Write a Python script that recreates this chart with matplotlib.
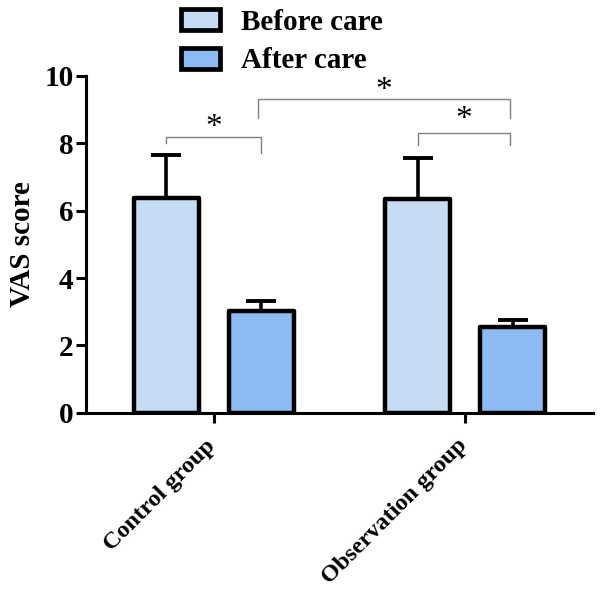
import numpy as np
import matplotlib
matplotlib.use("Agg")
import matplotlib.pyplot as plt
from matplotlib.transforms import ScaledTranslation
from matplotlib.patches import FancyBboxPatch
from matplotlib.legend_handler import HandlerPatch

plt.rcParams['font.family'] = ['Liberation Serif', 'DejaVu Serif']
plt.rcParams['font.weight'] = 'bold'

groups = ["Control group", "Observation group"]
series = ["Before care", "After care"]
before_mean = [6.38, 6.33]
before_sd = [1.26, 1.22]
after_mean = [3.02, 2.54]
after_sd = [0.30, 0.22]
colors = ["#c6dbf4", "#8cbaf2"]

fig = plt.figure(figsize=(6, 5.91), dpi=100)
ax = fig.add_axes([0.1433, 0.3012, 0.845, 0.571])

x = np.arange(len(groups))
w = 0.258
off = 0.189

for i, (m, sd) in enumerate([(before_mean, before_sd), (after_mean, after_sd)]):
    pos = x + (-off if i == 0 else off)
    ax.errorbar(pos, m, yerr=[np.zeros(len(m)), sd], fmt='none', ecolor='black',
                elinewidth=2.6, capsize=11, capthick=2.8, zorder=2)
    bars = ax.bar(pos, m, width=w, color=colors[i], edgecolor='black', linewidth=3.2,
                  label=series[i], zorder=3)
    for b in bars:
        b.set_joinstyle('round')

# significance brackets (gray), legs hang from bar centres
def bracket(x1, x2, ytop, y1, y2, ystar):
    ax.plot([x1, x1, x2, x2], [y1, ytop, ytop, y2], color='#808080', lw=1.0,
            clip_on=False, zorder=4)
    ax.text((x1 + x2) / 2, ystar, "*", ha='center', va='center', fontsize=24,
            fontweight='normal')

bracket(x[0] - off, x[0] + off, 8.18, 8.0, 7.7, 8.45)
bracket(x[0] + off - 0.012, x[1] + off - 0.012, 9.3, 8.74, 8.74, 9.55)
bracket(x[1] - off, x[1] + off - 0.012, 8.3, 7.94, 7.94, 8.68)

ax.set_xlim(-0.508, 1.509)
ax.set_ylim(0, 10)
ax.set_yticks([0, 2, 4, 6, 8, 10])
ax.set_xticks(x)
ax.set_xticklabels([])
shift = ScaledTranslation(-6.5 / 72, -16 / 72, fig.dpi_scale_trans)
for xi, g in zip(x, groups):
    ax.text(xi, 0, g, transform=ax.get_xaxis_transform() + shift, rotation=45,
            ha='right', va='top', rotation_mode='anchor', fontsize=17.5,
            fontweight='bold')
for lab in ax.get_yticklabels():
    lab.set_fontsize(21)
    lab.set_fontweight('bold')
ax.set_ylabel("VAS score", fontsize=21, fontweight='bold', labelpad=6)

for s in ['top', 'right']:
    ax.spines[s].set_visible(False)
for s in ['left', 'bottom']:
    ax.spines[s].set_linewidth(2.2)
ax.tick_params(axis='both', width=2.2, length=7, direction='out', pad=2)


def rounded_box(legend, orig_handle, xdescent, ydescent, width, height, fontsize):
    return FancyBboxPatch((-xdescent, -ydescent), width, height,
                          boxstyle="round,pad=0,rounding_size=3")


leg = fig.legend(loc='upper left', bbox_to_anchor=(0.258, 1.030), frameon=False,
                 prop={'family': 'Liberation Serif', 'weight': 'bold', 'size': 21},
                 handlelength=1.35, handleheight=0.72, labelspacing=0.41,
                 handletextpad=0.69,
                 handler_map={matplotlib.patches.Rectangle: HandlerPatch(patch_func=rounded_box)})
for h in leg.legend_handles:
    h.set_linewidth(3.4)

fig.savefig("out.png", dpi=100)
